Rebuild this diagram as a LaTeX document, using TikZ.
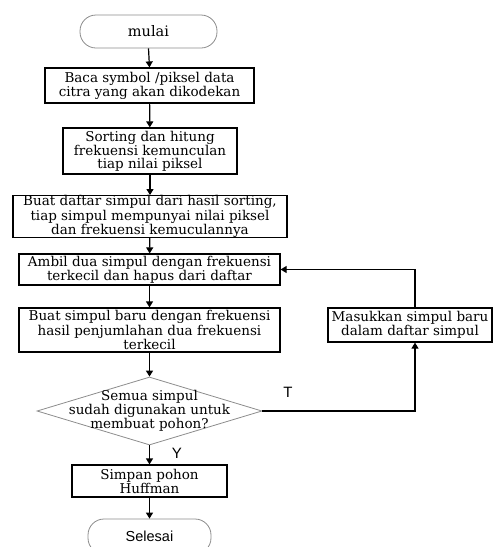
\documentclass[tikz,border=0pt]{standalone}
\usepackage{fontspec}
\setmainfont{DejaVu Serif}
\newfontfamily\labelfont{Liberation Sans}
\usetikzlibrary{shapes.geometric,arrows.meta,calc}
\begin{document}
\begin{tikzpicture}[x=1pt,y=-1pt,
  box/.style={draw=black,line width=1.2pt,rectangle,inner sep=0pt,align=center,font=\fontsize{13.5}{13}\selectfont},
  term/.style={draw=black!45,line width=0.8pt,rectangle,rounded corners=16pt,inner sep=0pt},
  arr/.style={line width=1.2pt,-{Triangle[length=6pt,width=7pt]}},
  lbl/.style={font=\labelfont\fontsize{15}{15}\selectfont,inner sep=0pt}]
\useasboundingbox (0,0) rectangle (494,547);
\node[term,minimum width=137pt,minimum height=33pt,font=\fontsize{14.5}{14}\selectfont] (start) at (148.5,31.5) {mulai};
\node[box,minimum width=209pt,minimum height=35pt] (b1) at (149.5,85.5) {Baca symbol /piksel data\\citra yang akan dikodekan};
\node[box,minimum width=174pt,minimum height=46pt] (b2) at (150,151) {Sorting dan hitung\\frekuensi kemunculan\\tiap nilai piksel};
\node[box,minimum width=274pt,minimum height=39pt] (b3) at (150,216.5) {Buat daftar simpul dari hasil sorting,\\tiap simpul mempunyai nilai piksel\\dan frekuensi kemuculannya};
\node[box,minimum width=261pt,minimum height=31pt] (b4) at (149.5,269.5) {Ambil dua simpul dengan frekuensi\\terkecil dan hapus dari daftar};
\node[box,minimum width=261pt,minimum height=44pt] (b5) at (149.5,330) {Buat simpul baru dengan frekuensi\\hasil penjumlahan dua frekuensi\\terkecil};
\node[box,minimum width=164pt,minimum height=34pt] (b6) at (410,325) {Masukkan simpul baru\\dalam daftar simpul};
\node[diamond,draw=black!45,line width=0.8pt,inner sep=0pt,minimum width=225pt,minimum height=68pt] (dec) at (149.5,411) {};
\node[align=center,inner sep=0pt,font=\fontsize{13.5}{13}\selectfont] (dectext) at (dec.center) {Semua simpul\\sudah digunakan untuk\\membuat pohon?};
\node[box,minimum width=155pt,minimum height=32pt] (b7) at (149.5,481) {Simpan pohon\\Huffman};
\node[term,minimum width=123pt,minimum height=35pt,font=\labelfont\fontsize{14.5}{14}\selectfont] (stop) at (149.5,536.5) {Selesai};
\node[lbl] (tlab) at (288,392) {T};
\node[lbl] (ylab) at (177,453) {Y};
\coordinate (loopbot) at (415,411);
\coordinate (looptop) at (415,269.5);
\draw[arr] (start.south) -- (b1.north);
\draw[arr] (b1) -- (b2);
\draw[arr] (b2) -- (b3);
\draw[arr] (b3) -- (b4);
\draw[arr] (b4) -- (b5);
\draw[arr] (b5.south) -- (dec.north);
\draw[arr] (dec.south) -- (b7.north);
\draw[arr] (b7.south) -- (stop.north);
\draw[arr] (dec.east) -- (loopbot) -- (loopbot |- b6.south);
\draw[arr] (looptop |- b6.north) -- (looptop) -- (b4.east);
\end{tikzpicture}
\end{document}
